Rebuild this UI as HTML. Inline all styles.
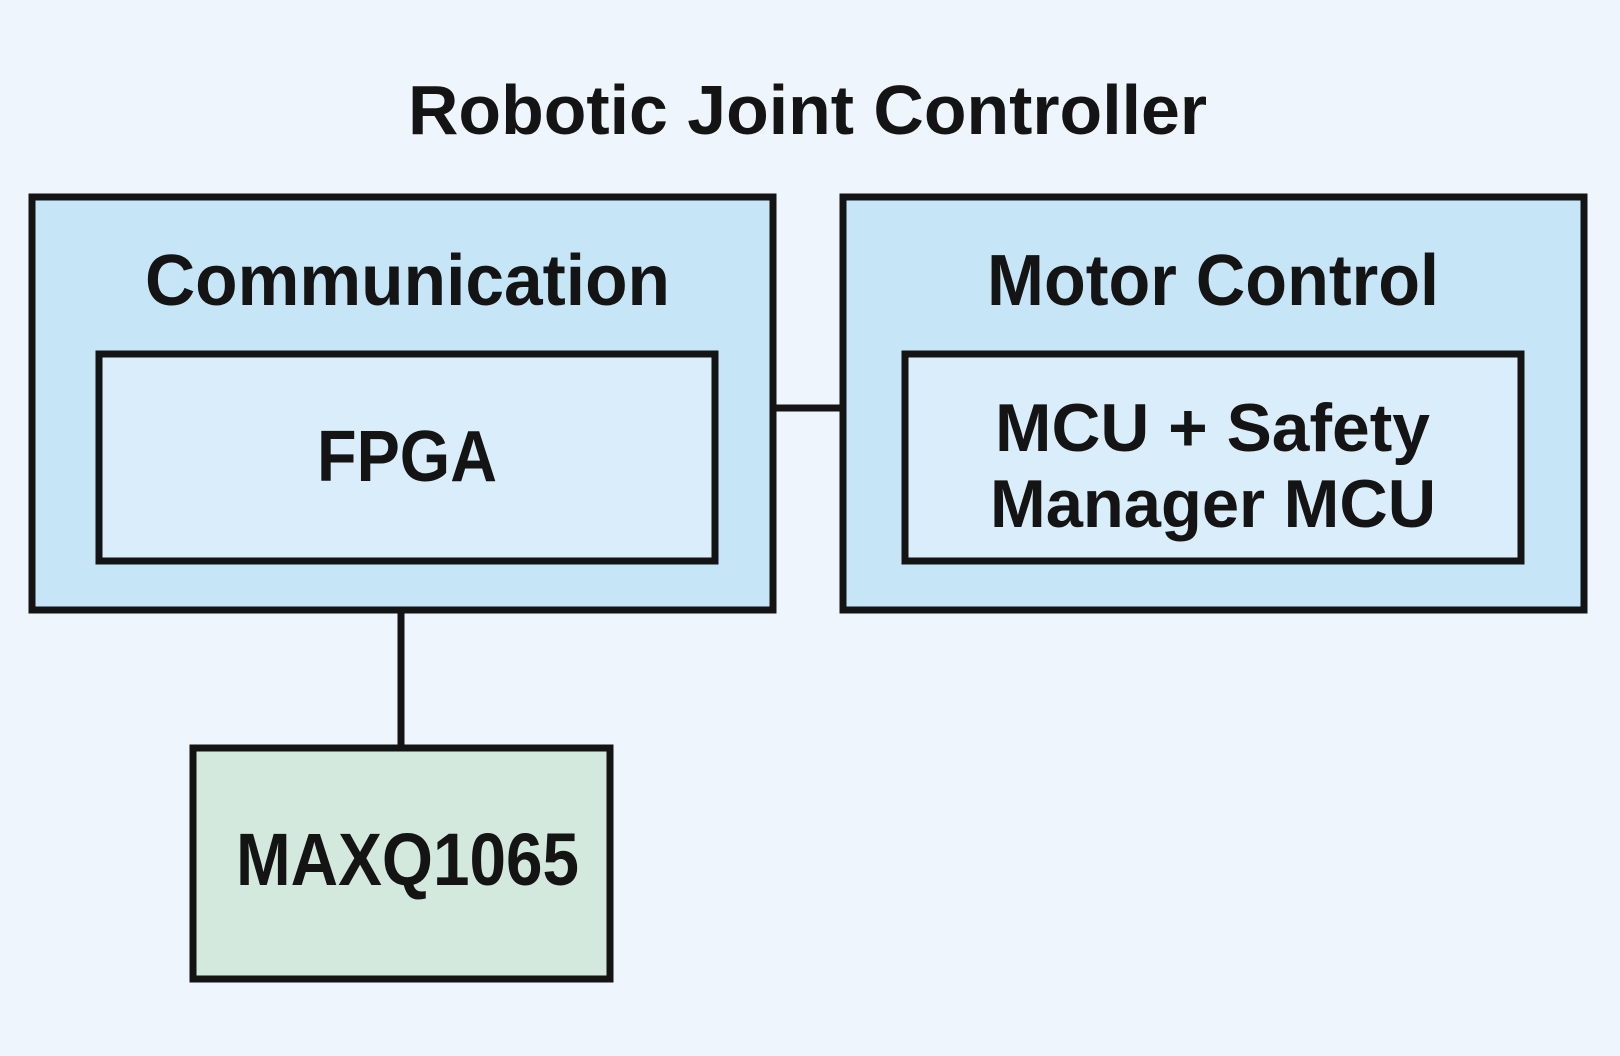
<!DOCTYPE html>
<html><head><meta charset="utf-8"><style>
html,body{margin:0;padding:0;background:#eef5fc;}
svg{display:block;}
text{font-family:"Liberation Sans",sans-serif;font-weight:bold;fill:#141414;}
</style></head><body>
<svg width="1620" height="1056" viewBox="0 0 1620 1056" xmlns="http://www.w3.org/2000/svg">
<rect width="1620" height="1056" fill="#eef5fc"/>
<text x="408" y="134" font-size="70" textLength="799" lengthAdjust="spacingAndGlyphs">Robotic Joint Controller</text>
<line x1="774" y1="408" x2="840" y2="408" stroke="#141414" stroke-width="7"/>
<line x1="401" y1="612" x2="401" y2="746" stroke="#141414" stroke-width="7"/>
<rect x="32" y="197" width="741" height="413" fill="#c6e6f7" stroke="#141414" stroke-width="7"/>
<rect x="843" y="197" width="741" height="413" fill="#c6e6f7" stroke="#141414" stroke-width="7"/>
<rect x="99" y="354" width="616" height="207" fill="#d9eefa" stroke="#141414" stroke-width="7"/>
<rect x="905" y="354" width="616" height="207" fill="#d9eefa" stroke="#141414" stroke-width="7"/>
<rect x="193" y="748" width="417" height="231" fill="#d4e9de" stroke="#141414" stroke-width="7"/>
<text x="145" y="305" font-size="72" textLength="525" lengthAdjust="spacingAndGlyphs">Communication</text>
<text x="987" y="305" font-size="72" textLength="452" lengthAdjust="spacingAndGlyphs">Motor Control</text>
<text x="317" y="481" font-size="72" textLength="180" lengthAdjust="spacingAndGlyphs">FPGA</text>
<text x="995" y="451" font-size="68" textLength="435" lengthAdjust="spacingAndGlyphs">MCU + Safety</text>
<text x="990" y="527" font-size="68" textLength="446" lengthAdjust="spacingAndGlyphs">Manager MCU</text>
<text x="236" y="885" font-size="74" textLength="343" lengthAdjust="spacingAndGlyphs">MAXQ1065</text>
</svg>
</body></html>
